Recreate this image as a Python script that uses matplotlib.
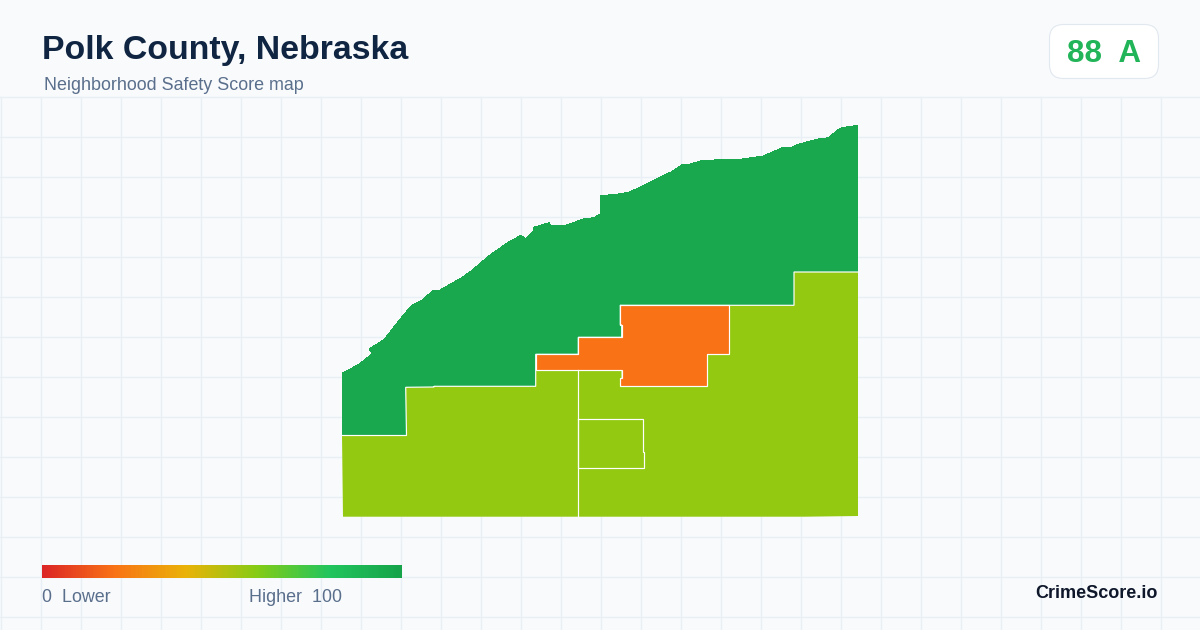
import numpy as np
import matplotlib
matplotlib.use("Agg")
import matplotlib.pyplot as plt
from matplotlib.colors import LinearSegmentedColormap
from matplotlib.patches import FancyBboxPatch, Polygon

plt.rcParams['font.family'] = ['Liberation Sans', 'DejaVu Sans']

title = "Polk County, Nebraska"
subtitle = "Neighborhood Safety Score map"
score_text = "88  A"

# map outlines, projected to image coordinates
coast = [(342.3, 373.3), (357.7, 365), (372.3, 354), (369.3, 349), (384.3, 339.3), (400, 319.3),
         (411, 306), (422.3, 300), (432.7, 290.7), (440, 290), (463.3, 276.7), (473.3, 269.3),
         (490, 255), (508.3, 242.3), (521, 235.3), (525.3, 238.7), (534, 230.7), (533.7, 227.3),
         (549.3, 222.7), (551, 226), (565, 225.7), (583.3, 219), (594, 217.7), (600.7, 213.7),
         (600.7, 195.7), (616.7, 194.3), (628.3, 192.3), (640, 187.3), (660, 177.3), (671.7, 171.7),
         (681.7, 165), (690, 164), (703.3, 160.3), (740, 159.3), (763.3, 156), (773.3, 151.7),
         (781.7, 148), (791.7, 147.3), (798.3, 144.3), (816.7, 139.3), (828.3, 137.7), (840, 128.3),
         (845, 127.3), (858, 125.3)]
north_edge = [(858, 272), (794, 272), (794, 305.3), (620.3, 305.3), (620.3, 325), (621.7, 325),
              (621.7, 337.3), (578.3, 337.3), (578.3, 354.3), (535.7, 354.3), (535.7, 386.3),
              (434, 386.3), (434, 387), (405.7, 387.3), (406.5, 435.5), (342, 435.5)]
center = [(620.3, 305.3), (728.7, 305.3), (728.7, 354.3), (707.3, 354.3), (707.3, 370.3), (706.5, 370.3),
          (706.5, 386.3), (620.3, 386.3), (620.3, 378.3), (621.5, 378.3), (621.5, 370.3), (535.7, 370.3),
          (535.7, 354.3), (578.3, 354.3), (578.3, 337.3), (621.7, 337.3), (621.7, 325), (620.3, 325)]
west = [(342, 435.5), (406.5, 435.5), (405.7, 387.3), (434, 387), (434, 386.3), (535.7, 386.3), (535.7, 370.3),
        (578.3, 370.3), (578.3, 516.7), (343, 516.7), (342.5, 476)]
east = [(578.3, 370.3), (621.5, 370.3), (621.5, 378.3), (620.3, 378.3), (620.3, 386.3), (706.5, 386.3),
        (706.5, 370.3), (707.3, 370.3), (707.3, 354.3), (728.7, 354.3), (728.7, 305.3), (794, 305.3),
        (794, 272), (858, 272), (858, 516), (805, 516.7), (578.3, 516.7)]
town = [(578.3, 419.3), (642.7, 419.3), (642.7, 452), (643.7, 452), (643.7, 468.3), (578.3, 468.3)]
divider = [(578.3, 370.3), (578.3, 516.7)]

region_colors = {"north": "#19a84d", "center": "#f97316", "rest": "#94c912"}

legend_stops = [0, 0.2, 0.4, 0.6, 0.8, 1]
legend_colors = ["#dc2626", "#f97316", "#eab308", "#84cc16", "#22c55e", "#16a34a"]


def Display():
    fig = plt.figure(figsize=(12, 6.3), dpi=100, facecolor="#f8fafc")
    ax = fig.add_axes([0, 0, 1, 1])
    ax.set_xlim(0, 1200)
    ax.set_ylim(630, 0)
    ax.axis('off')

    for x in np.arange(0.5, 1200, 40):
        ax.plot([x, x], [96.5, 630], color="#e9f0f5", lw=0.95, zorder=1)
    for y in np.arange(96.5, 630, 40):
        ax.plot([0, 1200], [y, y], color="#e9f0f5", lw=0.95, zorder=1)

    north = coast + north_edge
    ax.add_patch(Polygon(north, closed=True, facecolor=region_colors["north"], edgecolor="none",
                         antialiased=False, zorder=2))
    ax.add_patch(Polygon(west, closed=True, facecolor=region_colors["rest"], edgecolor="none", zorder=2))
    ax.add_patch(Polygon(east, closed=True, facecolor=region_colors["rest"], edgecolor="none", zorder=2))
    ax.add_patch(Polygon(center, closed=True, facecolor=region_colors["center"], edgecolor="none", zorder=2))

    # white borders only between regions, none on the county's outer edge
    for line in [north_edge, center + center[:1], town + town[:1], divider]:
        xs, ys = zip(*line)
        ax.plot(xs, ys, color="#ffffff", lw=0.85, solid_joinstyle='miter', zorder=3)

    ax.text(42, 50, title, fontsize=24.4, fontweight='bold', color="#0f2542", va='center', ha='left', zorder=6)
    ax.text(44, 86, subtitle, fontsize=12.9, color="#5a6f8c", va='center', ha='left', zorder=6)

    badge = FancyBboxPatch((1049.5 + 14, 24.5 + 14), 109 - 28, 54 - 28, boxstyle="round,pad=14,rounding_size=14",
                           facecolor="#ffffff", edgecolor="#e2e8f0", lw=0.8, zorder=5)
    ax.add_patch(badge)
    ax.text(1104, 54, score_text, fontsize=22.6, fontweight='bold', color="#22b458", va='center', ha='center', zorder=6)

    cmap = LinearSegmentedColormap.from_list("score", list(zip(legend_stops, legend_colors)))
    ax.imshow(np.linspace(0, 1, 360).reshape(1, -1), cmap=cmap, extent=(42, 402, 578, 565), aspect='auto', zorder=5)
    ax.set_xlim(0, 1200)
    ax.set_ylim(630, 0)

    ax.text(42, 598, "0  Lower", fontsize=12.9, color="#5a6f8c", va='center', ha='left', zorder=6)
    ax.text(249, 598, "Higher  100", fontsize=12.9, color="#5a6f8c", va='center', ha='left', zorder=6)
    ax.text(1158, 594, "CrimeScore.io", fontsize=13, fontweight='bold', color="#0f172a", va='center', ha='right', zorder=6)

    fig.savefig("out.png", dpi=100, facecolor=fig.get_facecolor())


def main():
    Display()


if __name__ == "__main__":
    main()
